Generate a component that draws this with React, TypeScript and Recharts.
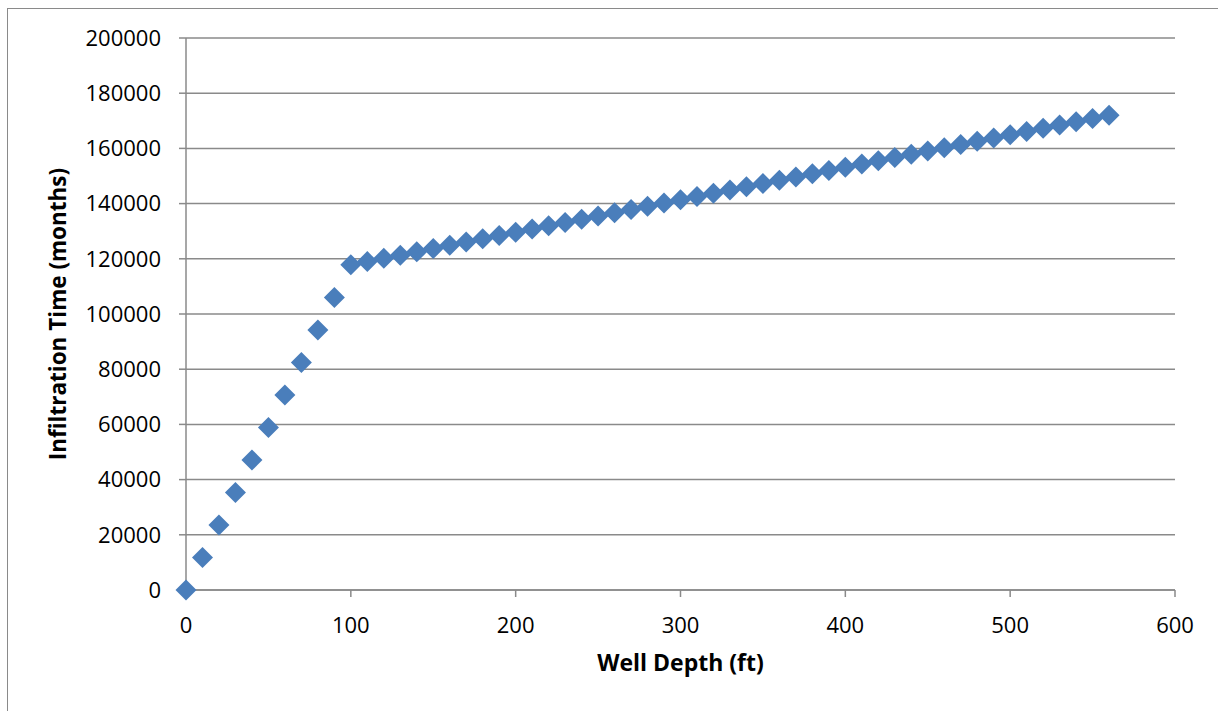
import React from 'react';
import { ScatterChart, Scatter, XAxis, YAxis, CartesianGrid, Label } from 'recharts';

const depths = [
  0, 10, 20, 30, 40, 50, 60, 70, 80, 90, 100, 110, 120, 130, 140, 150, 160, 170, 180, 190,
  200, 210, 220, 230, 240, 250, 260, 270, 280, 290, 300, 310, 320, 330, 340, 350, 360, 370, 380, 390,
  400, 410, 420, 430, 440, 450, 460, 470, 480, 490, 500, 510, 520, 530, 540, 550, 560,
];

const times = [
  0, 11780, 23560, 35340, 47120, 58900, 70680, 82460, 94240, 106020,
  117800, 118980, 120160, 121330, 122510, 123690, 124870, 126050, 127220, 128400,
  129580, 130760, 131940, 133110, 134290, 135470, 136650, 137830, 139000, 140180,
  141360, 142540, 143720, 144890, 146070, 147250, 148430, 149610, 150780, 151960,
  153140, 154320, 155500, 156670, 157850, 159030, 160210, 161390, 162560, 163740,
  164920, 166100, 167280, 168450, 169630, 170810, 171990,
];

const xTicks = [0, 100, 200, 300, 400, 500, 600];
const yTicks = [0, 20000, 40000, 60000, 80000, 100000, 120000, 140000, 160000, 180000, 200000];

const data = depths.map((d, i) => ({ depth: d, time: times[i] }));

const AXIS_GRAY = '#8a8a8a';
const MARKER = '#4A7EBB';
const FONT = '"Open Sans", "Noto Sans", sans-serif';

const Diamond = (props: any) => {
  const { cx, cy } = props;
  const r = 10.5;
  return (
    <path
      d={`M${cx},${cy - r}L${cx + r},${cy}L${cx},${cy + r}L${cx - r},${cy}Z`}
      fill={MARKER}
    />
  );
};

export default function App() {
  return (
    <div
      style={{
        position: 'absolute',
        left: 0,
        top: 0,
        width: 1218,
        height: 711,
        background: '#fff',
        fontFamily: FONT,
      }}
    >
      <div
        style={{
          position: 'absolute',
          left: 7,
          top: 8,
          width: 1218 - 7,
          height: 711 - 8,
          borderLeft: '1.5px solid #8a8a8a',
          borderTop: '1.5px solid #8a8a8a',
          boxSizing: 'border-box',
        }}
      />
      <div style={{ position: 'absolute', left: 0, top: 0 }}>
        <ScatterChart
          width={1218}
          height={711}
          margin={{ top: 38, right: 43, bottom: 81, left: 36 }}
        >
          <CartesianGrid
            vertical={false}
            stroke={AXIS_GRAY}
            strokeWidth={1.5}
          />
          <XAxis
            type="number"
            dataKey="depth"
            domain={[0, 600]}
            ticks={xTicks}
            height={40}
            axisLine={{ stroke: AXIS_GRAY, strokeWidth: 1.5 }}
            tickLine={{ stroke: AXIS_GRAY, strokeWidth: 1.5 }}
            tickSize={7}
            tickMargin={20}
            tick={{ fill: '#000', fontSize: 22, fontFamily: FONT }}
            interval={0}
          >
            <Label
              value="Well Depth (ft)"
              position="bottom"
              offset={25}
              style={{ fill: '#000', fontSize: 23, fontWeight: 'bold', fontFamily: FONT }}
            />
          </XAxis>
          <YAxis
            type="number"
            dataKey="time"
            domain={[0, 200000]}
            ticks={yTicks}
            width={150}
            axisLine={{ stroke: AXIS_GRAY, strokeWidth: 1.5 }}
            tickLine={{ stroke: AXIS_GRAY, strokeWidth: 1.5 }}
            tickSize={7}
            tickMargin={18}
            tick={{ fill: '#000', fontSize: 22, fontFamily: FONT }}
            interval={0}
          >
            <Label
              value="Infiltration Time (months)"
              angle={-90}
              position="insideLeft"
              offset={22}
              style={{ fill: '#000', fontSize: 22.5, fontWeight: 'bold', fontFamily: FONT, textAnchor: 'middle' }}
            />
          </YAxis>
          <Scatter data={data} shape={Diamond} isAnimationActive={false} />
        </ScatterChart>
      </div>
    </div>
  );
}
